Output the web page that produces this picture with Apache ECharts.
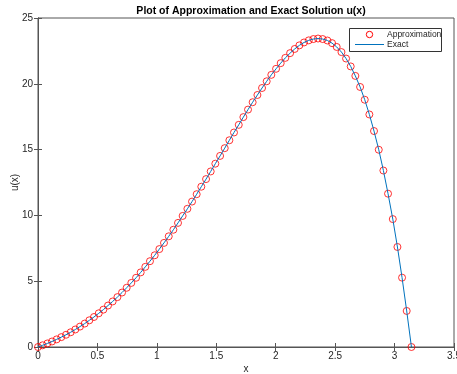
<!DOCTYPE html>
<html>
<head>
<meta charset="utf-8">
<script src="https://cdn.jsdelivr.net/npm/echarts@6/dist/echarts.min.js"></script>
<style>
html,body{margin:0;padding:0;background:#fff;}
#chart{width:457px;height:374px;}
</style>
</head>
<body>
<div id="chart"></div>
<script>
var titleText = 'Plot of Approximation and Exact Solution u(x)';
var legendNames = ['Approximation', 'Exact'];
var xTicks = ['0','0.5','1','1.5','2','2.5','3','3.5'];
var xs = [0,0.039,0.079,0.118,0.157,0.196,0.236,0.275,0.314,0.353,0.393,0.432,0.471,0.511,0.550,0.589,0.628,0.668,0.707,0.746,0.785,0.825,0.864,0.903,0.942,0.982,1.021,1.060,1.100,1.139,1.178,1.217,1.257,1.296,1.335,1.374,1.414,1.453,1.492,1.532,1.571,1.610,1.649,1.689,1.728,1.767,1.806,1.846,1.885,1.924,1.963,2.003,2.042,2.081,2.121,2.160,2.199,2.238,2.278,2.317,2.356,2.395,2.435,2.474,2.513,2.553,2.592,2.631,2.670,2.710,2.749,2.788,2.827,2.867,2.906,2.945,2.985,3.024,3.063,3.102,3.142];
var approx = [0,0.13,0.27,0.42,0.58,0.75,0.93,1.12,1.33,1.55,1.78,2.03,2.28,2.56,2.84,3.15,3.46,3.79,4.14,4.50,4.87,5.26,5.67,6.09,6.52,6.97,7.44,7.91,8.41,8.91,9.43,9.96,10.50,11.05,11.61,12.18,12.76,13.34,13.93,14.52,15.11,15.71,16.30,16.88,17.47,18.04,18.60,19.15,19.68,20.19,20.68,21.14,21.57,21.97,22.33,22.65,22.92,23.14,23.30,23.40,23.44,23.40,23.29,23.09,22.80,22.41,21.92,21.32,20.60,19.76,18.79,17.67,16.41,14.99,13.41,11.65,9.72,7.60,5.27,2.74,0];
var exact = approx.slice();

var font = 'Liberation Sans, Arial, Helvetica, sans-serif';
var axisCol = '#555555';
var textCol = '#262626';
var red = '#ff0000';
var blue = '#0072BD';

function pairs(x, y){ return x.map(function(v,i){ return [v, y[i]]; }); }

var chart = echarts.init(document.getElementById('chart'), null, {renderer:'canvas'});
chart.setOption({
  animation:false,
  backgroundColor:'#ffffff',
  title:{
    text:titleText, left:246, top:1, textAlign:'center',
    textStyle:{fontFamily:font, fontSize:10.5, fontWeight:'bold', color:'#000'}
  },
  grid:{left:38, right:3, top:18, bottom:27, show:true, borderColor:axisCol, borderWidth:1,
        containLabel:false, outerBoundsMode:'none'},
  xAxis:[{
    type:'value', min:0, max:3.5, interval:0.5,
    name:'x', nameLocation:'middle', nameGap:17, nameMoveOverlap:false,
    nameTextStyle:{fontFamily:font, fontSize:10, color:textCol},
    axisLine:{show:true, lineStyle:{color:axisCol}},
    axisTick:{show:true, inside:true, length:4, lineStyle:{color:axisCol}},
    axisLabel:{fontFamily:font, fontSize:10, color:textCol, margin:4,
      formatter:function(v){ var i=Math.round(v/0.5); return xTicks[i]; }},
    splitLine:{show:false}
  },{
    type:'value', min:0, max:3.5, interval:0.5, position:'top',
    axisLine:{show:true, lineStyle:{color:axisCol}},
    axisTick:{show:true, inside:true, length:4, lineStyle:{color:axisCol}},
    axisLabel:{show:false}, splitLine:{show:false}
  }],
  yAxis:[{
    type:'value', min:0, max:25, interval:5,
    name:'u(x)', nameLocation:'middle', nameGap:18, nameRotate:90, nameMoveOverlap:false,
    nameTextStyle:{fontFamily:font, fontSize:10, color:textCol},
    axisLine:{show:true, lineStyle:{color:axisCol}},
    axisTick:{show:true, inside:true, length:4, lineStyle:{color:axisCol}},
    axisLabel:{fontFamily:font, fontSize:10, color:textCol, margin:5},
    splitLine:{show:false}
  },{
    type:'value', min:0, max:25, interval:5, position:'right',
    axisLine:{show:true, lineStyle:{color:axisCol}},
    axisTick:{show:true, inside:true, length:4, lineStyle:{color:axisCol}},
    axisLabel:{show:false}, splitLine:{show:false}
  }],
  graphic:[
    {type:'rect', shape:{x:349.5, y:28.5, width:92, height:23}, style:{fill:'#fff', stroke:'#333', lineWidth:1}, z:10},
    {type:'circle', shape:{cx:369.5, cy:34.5, r:3.2}, style:{fill:'none', stroke:red, lineWidth:1}, z:11},
    {type:'line', shape:{x1:355, y1:44.5, x2:384, y2:44.5}, style:{stroke:blue, lineWidth:1}, z:11},
    {type:'text', x:387, y:34.5, style:{text:legendNames[0], font:'8.5px ' + font, fill:textCol, verticalAlign:'middle'}, z:11},
    {type:'text', x:387, y:44.5, style:{text:legendNames[1], font:'8.5px ' + font, fill:textCol, verticalAlign:'middle'}, z:11}
  ],
  series:[{
    name:legendNames[0], type:'scatter', data:pairs(xs, approx),
    symbol:'circle', symbolSize:7,
    itemStyle:{color:'rgba(0,0,0,0)', borderColor:red, borderWidth:1},
    z:2
  },{
    name:legendNames[1], type:'line', data:pairs(xs, exact),
    showSymbol:false, symbol:'none',
    lineStyle:{color:blue, width:1},
    z:3
  }]
});
</script>
</body>
</html>
